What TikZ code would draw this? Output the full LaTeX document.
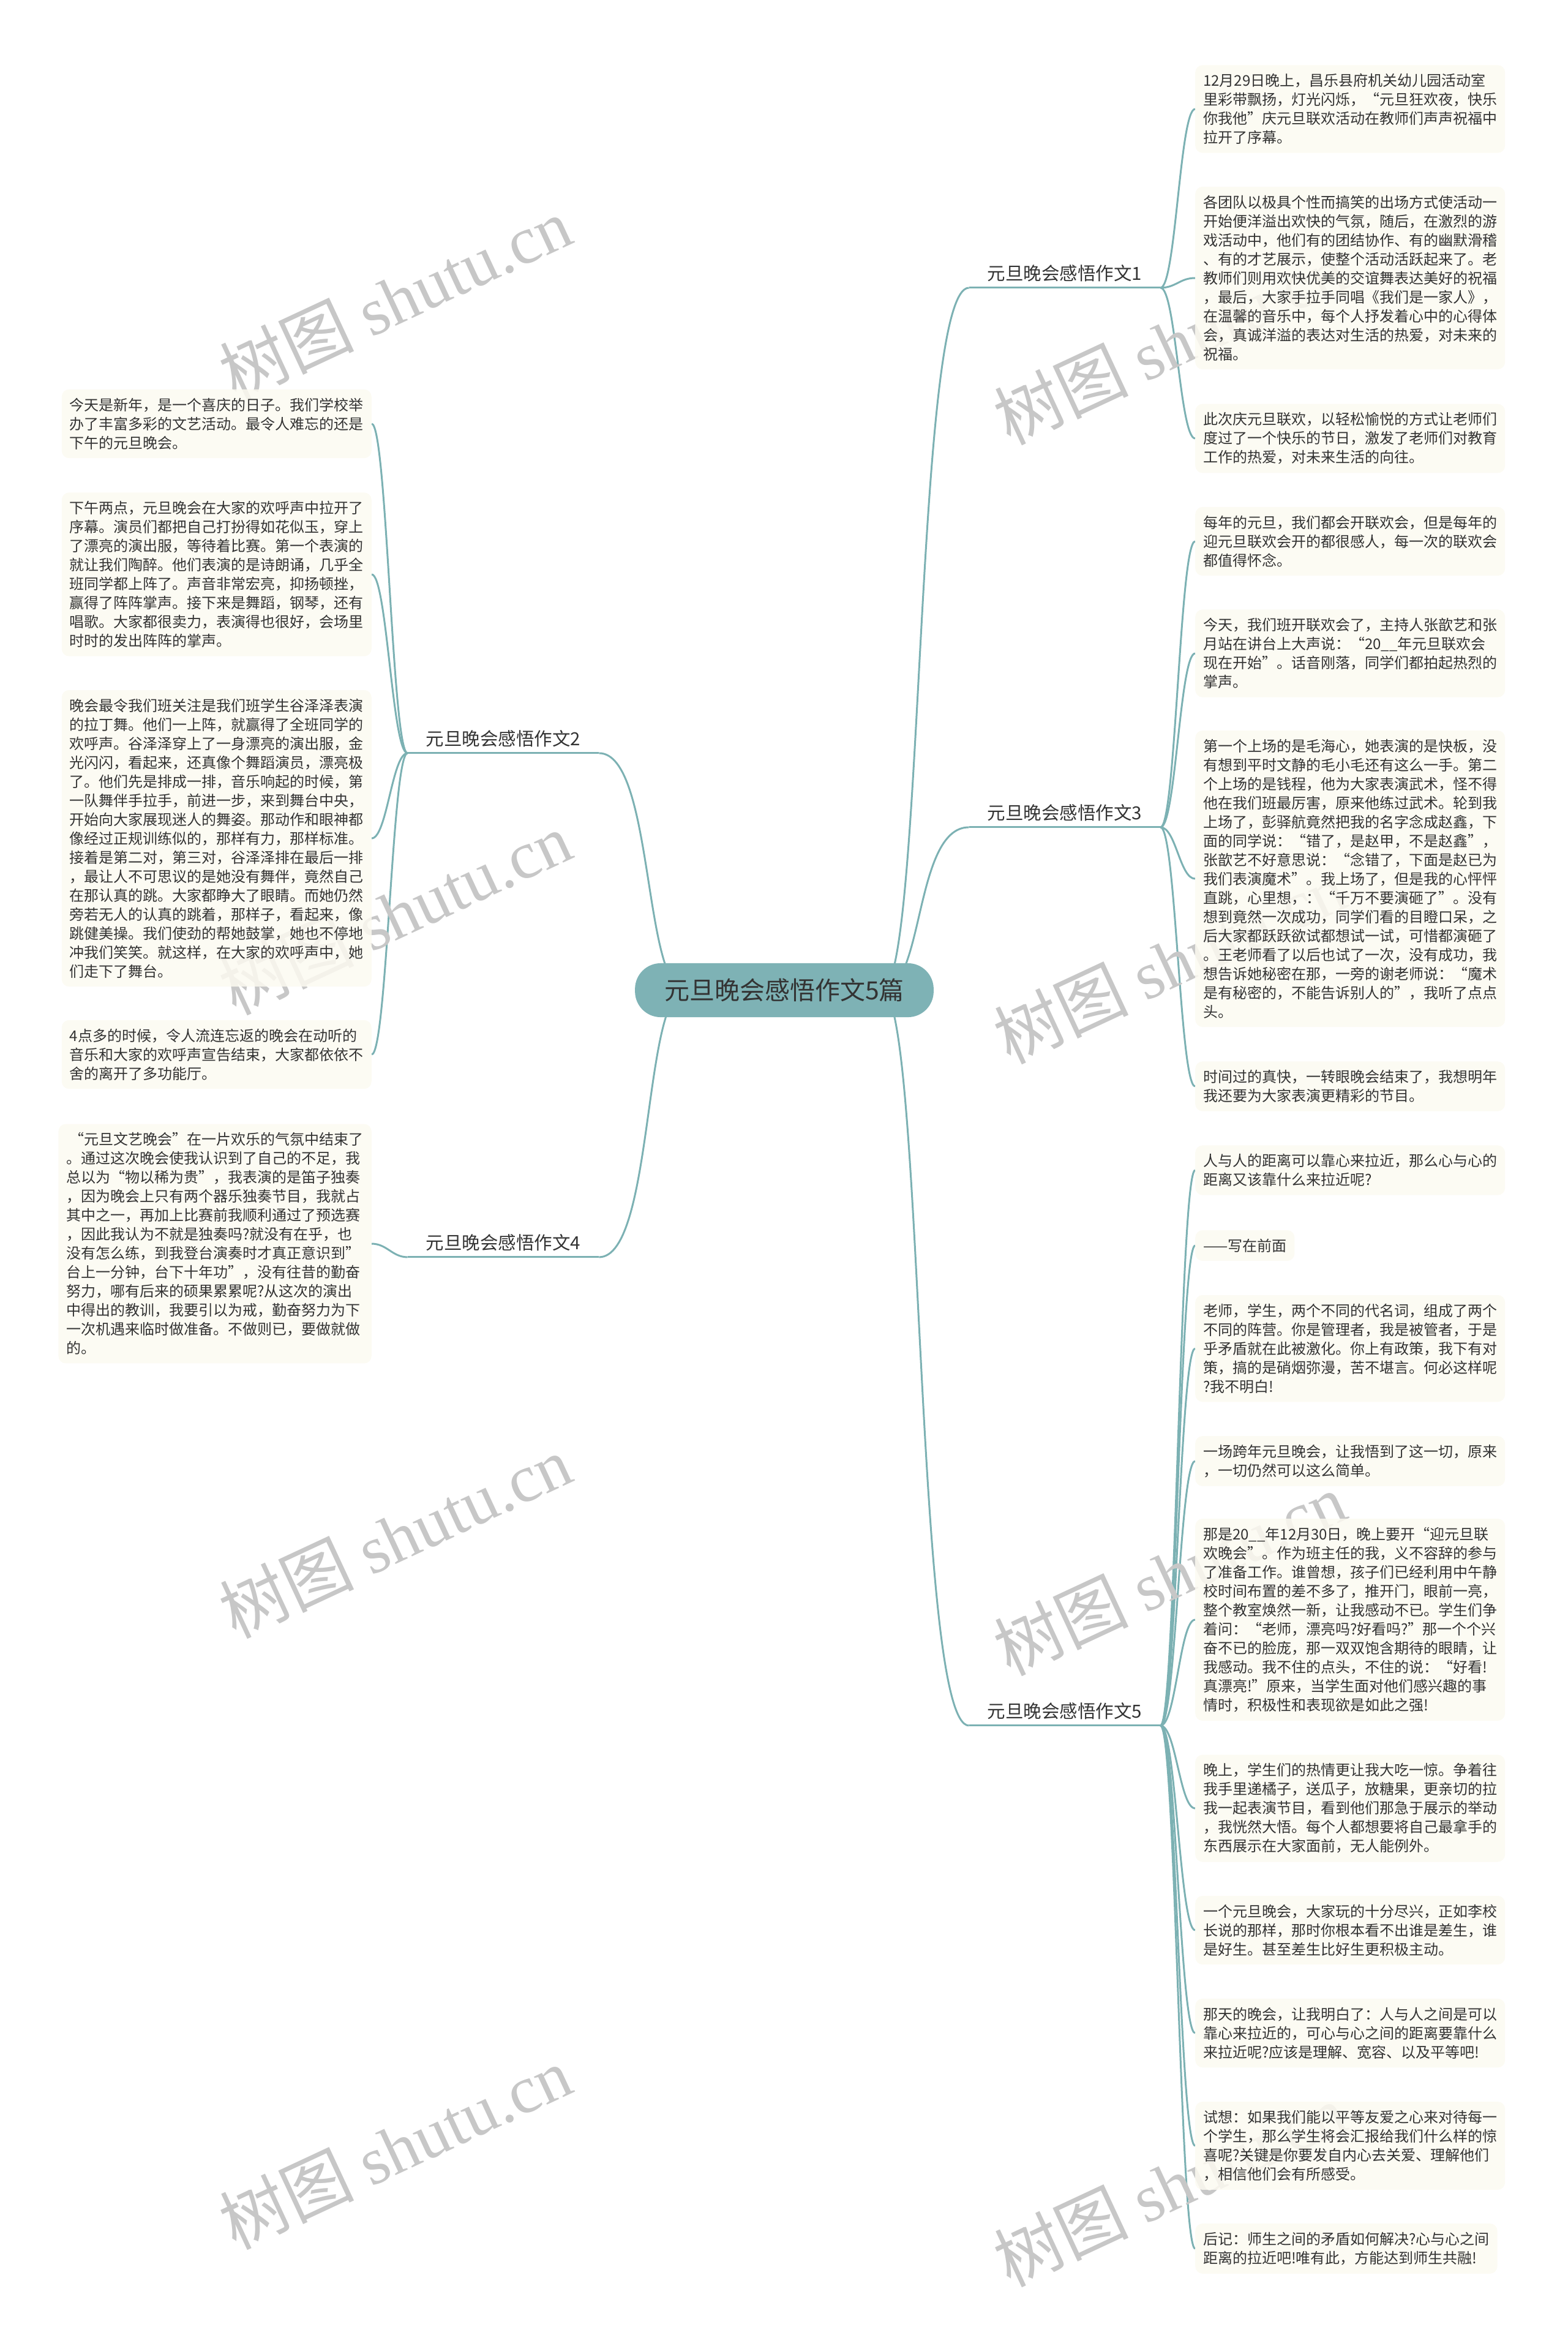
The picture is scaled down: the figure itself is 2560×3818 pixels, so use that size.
\documentclass[tikz,border=0pt]{standalone}
\usepackage{fontspec}
\newfontfamily\cjk{Noto Sans CJK SC}
\newfontfamily\wmserif{Liberation Serif}
\usetikzlibrary{backgrounds}
\definecolor{linkcol}{RGB}{124,177,179}
\definecolor{rootfill}{RGB}{126,178,181}
\definecolor{leaffill}{RGB}{252,250,241}
\definecolor{inkcol}{RGB}{51,51,51}
\tikzset{
  link/.style={draw=linkcol, line width=3pt},
  leaf/.style={fill=leaffill, fill opacity=0.85, text opacity=1, rounded corners=12pt,
    align=left, inner xsep=13pt, inner ysep=14pt, text=inkcol, font=\cjk\fontsize{24}{31}\selectfont},
  leafR/.style={leaf, anchor=west},
  leafL/.style={leaf, anchor=east},
  branch/.style={text=inkcol, font=\cjk\fontsize{29.5}{35}\selectfont, inner xsep=30pt, inner ysep=10pt},
  rootbox/.style={fill=rootfill, rounded corners=42pt, text=inkcol,
    font=\cjk\fontsize{41}{48}\selectfont, inner xsep=48pt, inner ysep=25pt},
  wmark/.style={text=black!22, rotate=25, font=\cjk\fontsize{110}{120}\selectfont},
}
\begin{document}
\begin{tikzpicture}[x=1pt, y=-1pt]
  \useasboundingbox (0,0) rectangle (2560,3818);
  % ---- root and the five essays ----
  \node[rootbox] (root) at (1281,1617) {元旦晚会感悟作文5篇};
  \coordinate (hubR) at (1440,1617);
  \coordinate (hubL) at (1120,1617);
  \foreach \b/\x/\y/\t in {b1/1739/446/1, b3/1739/1327/3, b5/1739/2794/5, b2/822/1206/2, b4/822/2029/4}
    \node[branch] (\b) at (\x,\y) {元旦晚会感悟作文\t};
  % ---- right column paragraphs (name/branch/y/text) ----
  \foreach \n/\b/\y/\t in {
    r11/b1/178/{12月29日晚上，昌乐县府机关幼儿园活动室\\里彩带飘扬，灯光闪烁，“元旦狂欢夜，快乐\\你我他”庆元旦联欢活动在教师们声声祝福中\\拉开了序幕。},
    r12/b1/454/{各团队以极具个性而搞笑的出场方式使活动一\\开始便洋溢出欢快的气氛，随后，在激烈的游\\戏活动中，他们有的团结协作、有的幽默滑稽\\、有的才艺展示，使整个活动活跃起来了。老\\教师们则用欢快优美的交谊舞表达美好的祝福\\，最后，大家手拉手同唱《我们是一家人》，\\在温馨的音乐中，每个人抒发着心中的心得体\\会，真诚洋溢的表达对生活的热爱，对未来的\\祝福。},
    r13/b1/716/{此次庆元旦联欢，以轻松愉悦的方式让老师们\\度过了一个快乐的节日，激发了老师们对教育\\工作的热爱，对未来生活的向往。},
    r31/b3/884/{每年的元旦，我们都会开联欢会，但是每年的\\迎元旦联欢会开的都很感人，每一次的联欢会\\都值得怀念。},
    r32/b3/1067/{今天，我们班开联欢会了，主持人张歆艺和张\\月站在讲台上大声说：“20\_\_年元旦联欢会\\现在开始”。话音刚落，同学们都拍起热烈的\\掌声。},
    r33/b3/1435/{第一个上场的是毛海心，她表演的是快板，没\\有想到平时文静的毛小毛还有这么一手。第二\\个上场的是钱程，他为大家表演武术，怪不得\\他在我们班最厉害，原来他练过武术。轮到我\\上场了，彭驿航竟然把我的名字念成赵鑫，下\\面的同学说：“错了，是赵甲，不是赵鑫”，\\张歆艺不好意思说：“念错了，下面是赵已为\\我们表演魔术”。我上场了，但是我的心怦怦\\直跳，心里想，：“千万不要演砸了”。没有\\想到竟然一次成功，同学们看的目瞪口呆，之\\后大家都跃跃欲试都想试一试，可惜都演砸了\\。王老师看了以后也试了一次，没有成功，我\\想告诉她秘密在那，一旁的谢老师说：“魔术\\是有秘密的，不能告诉别人的”，我听了点点\\头。},
    r34/b3/1774/{时间过的真快，一转眼晚会结束了，我想明年\\我还要为大家表演更精彩的节目。},
    r51/b5/1911/{人与人的距离可以靠心来拉近，那么心与心的\\距离又该靠什么来拉近呢?},
    r52/b5/2034/{——写在前面},
    r53/b5/2202/{老师，学生，两个不同的代名词，组成了两个\\不同的阵营。你是管理者，我是被管者，于是\\乎矛盾就在此被激化。你上有政策，我下有对\\策，搞的是硝烟弥漫，苦不堪言。何必这样呢\\?我不明白!},
    r54/b5/2386/{一场跨年元旦晚会，让我悟到了这一切，原来\\，一切仍然可以这么简单。},
    r55/b5/2645/{那是20\_\_年12月30日，晚上要开“迎元旦联\\欢晚会”。作为班主任的我，义不容辞的参与\\了准备工作。谁曾想，孩子们已经利用中午静\\校时间布置的差不多了，推开门，眼前一亮，\\整个教室焕然一新，让我感动不已。学生们争\\着问：“老师，漂亮吗?好看吗?”那一个个兴\\奋不已的脸庞，那一双双饱含期待的眼睛，让\\我感动。我不住的点头，不住的说：“好看!\\真漂亮!”原来，当学生面对他们感兴趣的事\\情时，积极性和表现欲是如此之强!},
    r56/b5/2953/{晚上，学生们的热情更让我大吃一惊。争着往\\我手里递橘子，送瓜子，放糖果，更亲切的拉\\我一起表演节目，看到他们那急于展示的举动\\，我恍然大悟。每个人都想要将自己最拿手的\\东西展示在大家面前，无人能例外。},
    r57/b5/3152/{一个元旦晚会，大家玩的十分尽兴，正如李校\\长说的那样，那时你根本看不出谁是差生，谁\\是好生。甚至差生比好生更积极主动。},
    r58/b5/3320/{那天的晚会，让我明白了：人与人之间是可以\\靠心来拉近的，可心与心之间的距离要靠什么\\来拉近呢?应该是理解、宽容、以及平等吧!},
    r59/b5/3504/{试想：如果我们能以平等友爱之心来对待每一\\个学生，那么学生将会汇报给我们什么样的惊\\喜呢?关键是你要发自内心去关爱、理解他们\\，相信他们会有所感受。},
    r510/b5/3672/{后记：师生之间的矛盾如何解决?心与心之间\\距离的拉近吧!唯有此，方能达到师生共融!}} {
    \node[leafR] (\n) at (1952,\y) {\t};
    \begin{scope}[on background layer]
      \draw[link] (\b.south east) .. controls +(25,0) and +(-25,0) .. (\n.west);
    \end{scope}
  }
  % ---- left column paragraphs ----
  \foreach \n/\b/\y/\t in {
    l21/b2/692/{今天是新年，是一个喜庆的日子。我们学校举\\办了丰富多彩的文艺活动。最令人难忘的还是\\下午的元旦晚会。},
    l22/b2/938/{下午两点，元旦晚会在大家的欢呼声中拉开了\\序幕。演员们都把自己打扮得如花似玉，穿上\\了漂亮的演出服，等待着比赛。第一个表演的\\就让我们陶醉。他们表演的是诗朗诵，几乎全\\班同学都上阵了。声音非常宏亮，抑扬顿挫，\\赢得了阵阵掌声。接下来是舞蹈，钢琴，还有\\唱歌。大家都很卖力，表演得也很好，会场里\\时时的发出阵阵的掌声。},
    l23/b2/1369/{晚会最令我们班关注是我们班学生谷泽泽表演\\的拉丁舞。他们一上阵，就赢得了全班同学的\\欢呼声。谷泽泽穿上了一身漂亮的演出服，金\\光闪闪，看起来，还真像个舞蹈演员，漂亮极\\了。他们先是排成一排，音乐响起的时候，第\\一队舞伴手拉手，前进一步，来到舞台中央，\\开始向大家展现迷人的舞姿。那动作和眼神都\\像经过正规训练似的，那样有力，那样标准。\\接着是第二对，第三对，谷泽泽排在最后一排\\，最让人不可思议的是她没有舞伴，竟然自己\\在那认真的跳。大家都睁大了眼睛。而她仍然\\旁若无人的认真的跳着，那样子，看起来，像\\跳健美操。我们使劲的帮她鼓掌，她也不停地\\冲我们笑笑。就这样，在大家的欢呼声中，她\\们走下了舞台。},
    l24/b2/1722/{4点多的时候，令人流连忘返的晚会在动听的\\音乐和大家的欢呼声宣告结束，大家都依依不\\舍的离开了多功能厅。},
    l41/b4/2031/{\ “元旦文艺晚会”在一片欢乐的气氛中结束了\\。通过这次晚会使我认识到了自己的不足，我\\总以为“物以稀为贵”，我表演的是笛子独奏\\，因为晚会上只有两个器乐独奏节目，我就占\\其中之一，再加上比赛前我顺利通过了预选赛\\，因此我认为不就是独奏吗?就没有在乎，也\\没有怎么练，到我登台演奏时才真正意识到”\\台上一分钟，台下十年功”，没有往昔的勤奋\\努力，哪有后来的硕果累累呢?从这次的演出\\中得出的教训，我要引以为戒，勤奋努力为下\\一次机遇来临时做准备。不做则已，要做就做\\的。}} {
    \node[leafL] (\n) at (607,\y) {\t};
    \begin{scope}[on background layer]
      \draw[link] (\b.south west) .. controls +(-25,0) and +(25,0) .. (\n.east);
    \end{scope}
  }
  % ---- curves from the root, underlines, watermark ----
  \begin{scope}[on background layer]
    \foreach \x/\y [count=\i] in {645/487, 645/1491, 645/2509, 645/3507, 1910/560, 1910/1571, 1910/2570, 1910/3568}
      \node[wmark] (wm\i) at (\x,\y) {树图 {\wmserif shutu.cn}};
    \foreach \b in {b1,b3,b5} {
      \draw[link] (hubR) .. controls +(70,0) and +(-90,0) .. (\b.south west);
      \draw[link] (\b.south west) -- (\b.south east);
    }
    \foreach \b in {b2,b4} {
      \draw[link] (hubL) .. controls +(-70,0) and +(90,0) .. (\b.south east);
      \draw[link] (\b.south west) -- (\b.south east);
    }
  \end{scope}
\end{tikzpicture}
\end{document}
